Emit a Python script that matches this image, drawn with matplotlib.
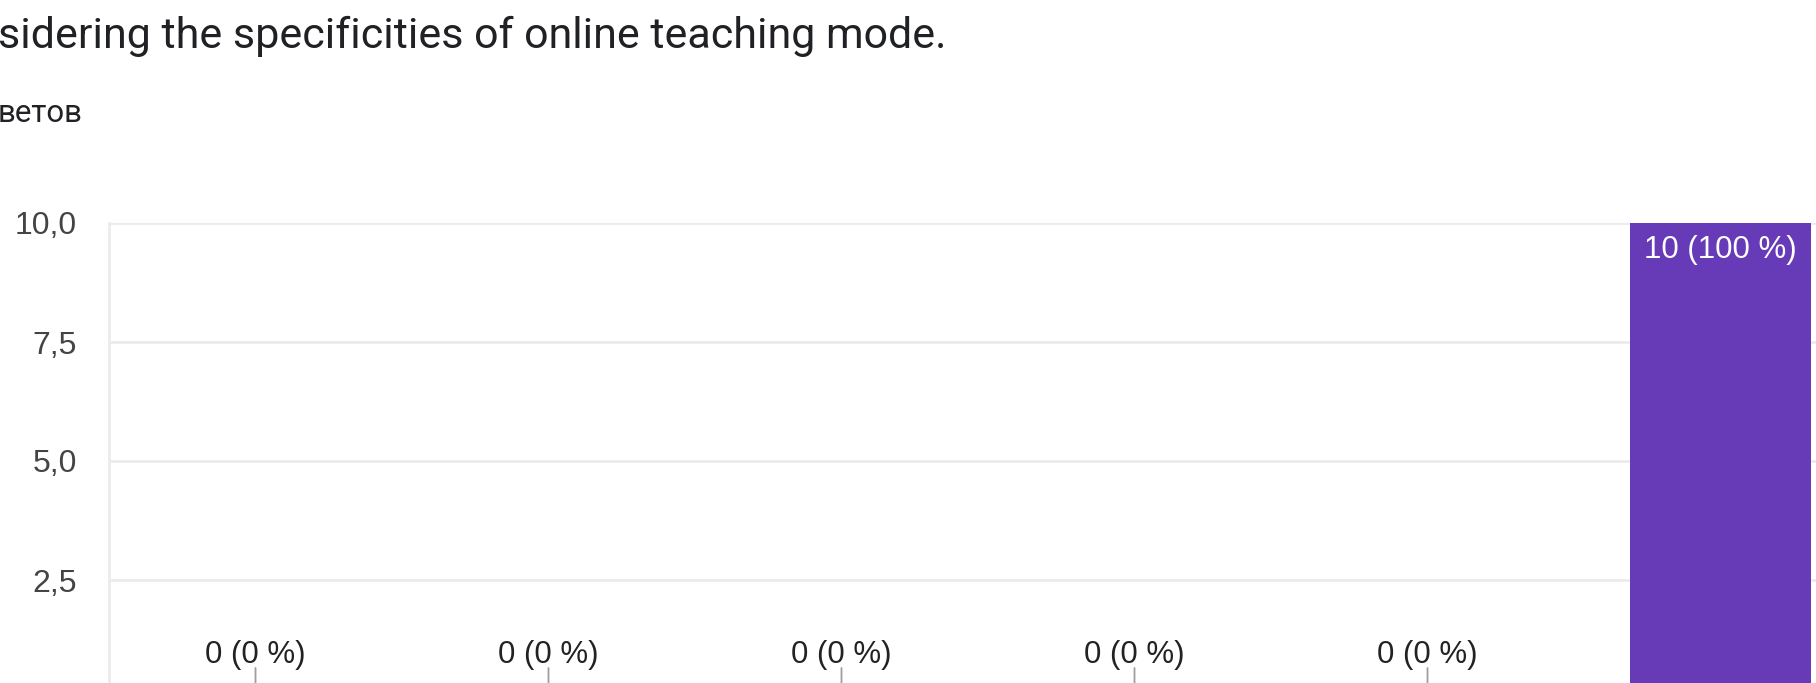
import matplotlib
matplotlib.use("Agg")
import matplotlib.pyplot as plt
from matplotlib.ticker import FuncFormatter

# chart data (Google Forms summary, cropped screenshot)
categories = ["1", "2", "3", "4", "5", "6"]
counts = [0, 0, 0, 0, 0, 10]
y_ticks = [2.5, 5.0, 7.5, 10.0]   # the 0 line lies below the crop

title_text = "sidering the specificities of online teaching mode."
subtitle_text = "ветов"

BAR_COLOR = "#673ab7"
GRID_COLOR = "#ebebeb"
CHART_FONT = ["Liberation Sans", "DejaVu Sans"]   # arial-like, as google charts

plt.rcParams["font.family"] = ["Roboto", "DejaVu Sans"]

fig = plt.figure(figsize=(18.16, 6.83), dpi=100)
# axes run past the figure edges, like the cropped screenshot
ax = fig.add_axes([109 / 1816, -16 / 683, 1758 / 1816, 476 / 683])

x = list(range(len(categories)))
ax.bar(x, counts, width=0.62, color=BAR_COLOR, zorder=3)

ax.set_xlim(-0.5, len(categories) - 0.5)
ax.set_ylim(0, 10)
ax.set_xticks(x)
ax.set_xticklabels(categories)
ax.set_yticks(y_ticks)
ax.yaxis.set_major_formatter(FuncFormatter(lambda v, p: f"{v:.1f}".replace(".", ",")))
ax.tick_params(axis="y", length=0, pad=23, labelsize=23, labelcolor="#444444")
ax.tick_params(axis="x", length=0, labelbottom=False)   # category row is cropped off
for t in ax.get_yticklabels():
    t.set_family(CHART_FONT)

ax.grid(axis="y", color=GRID_COLOR, lw=2, zorder=0)
ax.set_axisbelow(True)
for side in ["top", "right", "bottom"]:
    ax.spines[side].set_visible(False)
ax.spines["left"].set_color(GRID_COLOR)
ax.spines["left"].set_linewidth(2)

total = sum(counts)
for i, v in enumerate(counts):
    label = f"{v} ({round(v / total * 100)} %)"
    if v == 0:
        # stem + label above the zero-height bar
        ax.annotate("", xy=(i, v), xytext=(0, 31), textcoords="offset pixels",
                    arrowprops=dict(arrowstyle="-", color="#9e9e9e", lw=1.3,
                                    shrinkA=0, shrinkB=0), annotation_clip=False)
        ax.annotate(label, xy=(i, v), xytext=(0, 36), textcoords="offset pixels",
                    ha="center", va="baseline", fontsize=22.5, color="#222222",
                    family=CHART_FONT, annotation_clip=False)
    else:
        ax.annotate(label, xy=(i, v), xytext=(0, -12), textcoords="offset pixels",
                    ha="center", va="top", fontsize=22.5, color="white",
                    family=CHART_FONT)

fig.text(-2 / 1816, 1 - 48 / 683, title_text, fontsize=31, color="#202124",
         ha="left", va="baseline")
fig.text(-2 / 1816, 1 - 122 / 683, subtitle_text, fontsize=22.5, color="#202124",
         ha="left", va="baseline")

fig.savefig("out.png", dpi=100)
